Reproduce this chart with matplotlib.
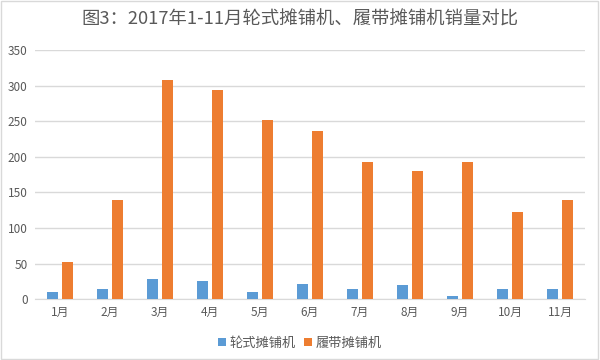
import matplotlib
matplotlib.use('Agg')
import matplotlib.pyplot as plt
import numpy as np

months = ['1月','2月','3月','4月','5月','6月','7月','8月','9月','10月','11月']
wheeled = [10, 14, 29, 25, 10, 21, 14, 20, 5, 14, 14]
tracked = [52, 140, 308, 294, 252, 236, 192, 180, 192, 122, 139]
names = ['轮式摊铺机', '履带摊铺机']
colors = ['#5B9BD5', '#ED7D31']

plt.rcParams['font.family'] = ['Noto Sans CJK SC', 'DejaVu Sans']

fig = plt.figure(figsize=(6, 3.6), dpi=100)
ax = fig.add_axes([0.058, 0.169, 0.917, 0.692])

x = np.arange(len(months))
w = 0.22
ax.bar(x - 0.15, wheeled, w, color=colors[0], label=names[0], zorder=3)
ax.bar(x + 0.15, tracked, w, color=colors[1], label=names[1], zorder=3)

ax.set_xlim(-0.5, len(months) - 0.5)
ax.set_ylim(0, 350)
ax.set_yticks(range(0, 351, 50))
ax.set_xticks(x)
ax.set_xticklabels(months)
ax.grid(axis='y', color='#D9D9D9', linewidth=1, zorder=0)
for s in ['top', 'right', 'left']:
    ax.spines[s].set_visible(False)
ax.spines['bottom'].set_color('#D9D9D9')
ax.tick_params(length=0, labelsize=8.5, colors='#595959', pad=5)

fig.suptitle('图3：2017年1-11月轮式摊铺机、履带摊铺机销量对比', y=0.97,
             fontsize=13.2, color='#595959')
fig.legend(loc='lower center', bbox_to_anchor=(0.5, -0.005), ncol=2, frameon=False,
           fontsize=9.5, labelcolor='#595959', handlelength=0.6, handleheight=0.6,
           columnspacing=0.6, handletextpad=0.3)

fig.patches.append(plt.Rectangle((0.002, 0.003), 0.994, 0.994, transform=fig.transFigure,
                                 fill=False, edgecolor='#D9D9D9', linewidth=1))

fig.savefig('out.png', dpi=100)
